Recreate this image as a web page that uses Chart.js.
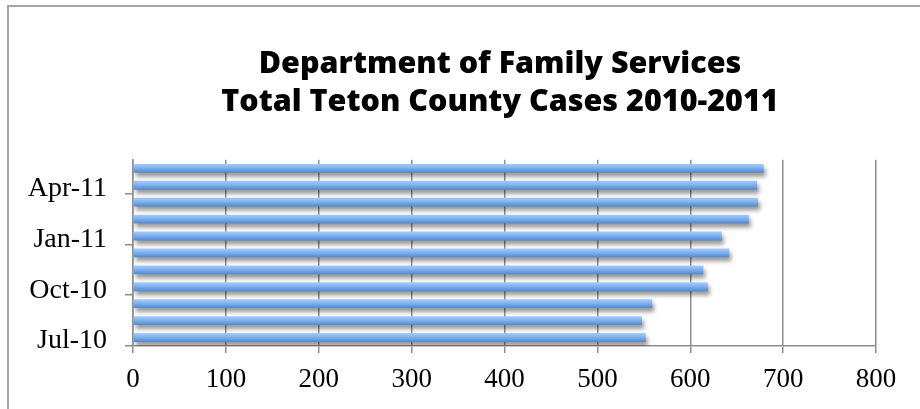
<!DOCTYPE html>
<html>
<head>
<meta charset="utf-8">
<script src="https://cdn.jsdelivr.net/npm/chart.js@4/dist/chart.umd.min.js"></script>
<style>
  html, body { margin: 0; padding: 0; background: #fff; overflow: hidden; }
  #wrap { position: relative; width: 920px; height: 409px; }
  #frame {
    position: absolute; left: 7px; top: 5px;
    width: 1000px; height: 500px;
    border: 2px solid #a4a4a4; pointer-events: none;
  }
  canvas { position: absolute; left: 0; top: 0; }
</style>
</head>
<body>
<div id="wrap">
  <canvas id="casesChart" width="920" height="409"></canvas>
  <div id="frame"></div>
</div>
<script>
// Monthly case totals, Jul 2010 - May 2011
const months = ['Jul-10', 'Aug-10', 'Sep-10', 'Oct-10', 'Nov-10', 'Dec-10',
                'Jan-11', 'Feb-11', 'Mar-11', 'Apr-11', 'May-11'];
const cases = [552, 548, 559, 619, 614, 642, 634, 663, 673, 672, 679];

// Category axis shows every third month, placed on the lower edge of its band
const monthTicks = [-0.5, 2.5, 5.5, 8.5];
const valueMax = 800;
const valueStep = 100;

const gridGrey = '#8e8e8e';
const serif = "'Liberation Serif', 'Times New Roman', serif";

// bar gradient, light at the top edge, deeper blue underneath
function barFill(ctx) {
    const chart = ctx.chart;
    const yScale = chart.scales.y;
    if (!yScale || ctx.type !== 'data') return '#7aade9';
    const c = yScale.getPixelForValue(ctx.dataIndex);
    if (!isFinite(c)) return '#7aade9';
    const g = chart.ctx.createLinearGradient(0, c - 4.5, 0, c + 4.5);
    g.addColorStop(0, '#a8cbf7');
    g.addColorStop(0.4, '#86b5ef');
    g.addColorStop(1, '#4c88d4');
    return g;
}

// soft drop shadow under the bars
const barShadow = {
    id: 'barShadow',
    beforeDatasetsDraw(chart) {
        const ctx = chart.ctx;
        ctx.save();
        ctx.shadowColor = 'rgba(0, 0, 0, 0.4)';
        ctx.shadowBlur = 4;
        ctx.shadowOffsetX = 2;
        ctx.shadowOffsetY = 4;
    },
    afterDatasetsDraw(chart) {
        chart.ctx.restore();
    }
};

// the frame runs past the right edge, so centre the title over the whole frame
const titleSpan = {
    id: 'titleSpan',
    afterLayout(chart) {
        if (chart.titleBlock) {
            chart.titleBlock.left = 8;
            chart.titleBlock.right = 992;
        }
    }
};

const ctx = document.getElementById('casesChart').getContext('2d');
const casesChart = new Chart(ctx, {
    type: 'bar',
    data: {
        datasets: [{
            label: 'Cases',
            data: months.map((m, i) => ({ x: cases[i], y: i })),
            backgroundColor: barFill,
            borderWidth: 0,
            barPercentage: 0.55,
            categoryPercentage: 0.95
        }]
    },
    plugins: [barShadow, titleSpan],
    options: {
        indexAxis: 'y',
        responsive: false,
        animation: false,
        layout: {
            padding: { left: 0, right: 44, top: 0, bottom: 0 }
        },
        plugins: {
            legend: { display: false },
            tooltip: { enabled: false },
            title: {
                display: true,
                text: ['Department of Family Services', 'Total Teton County Cases 2010-2011'],
                color: '#000',
                font: { family: "'Open Sans', sans-serif", size: 30.5, weight: 800, lineHeight: 1.26 },
                padding: { top: 45, bottom: 38 }
            }
        },
        scales: {
            x: {
                type: 'linear',
                min: 0,
                max: valueMax,
                afterFit(scale) { scale.height = 63; },
                ticks: {
                    stepSize: valueStep,
                    color: '#000',
                    font: { family: serif, size: 27 },
                    padding: 11,
                    maxRotation: 0
                },
                grid: {
                    color: gridGrey,
                    lineWidth: 1.5,
                    tickLength: 7
                },
                border: { color: gridGrey, width: 1.5 }
            },
            y: {
                type: 'linear',
                min: -0.5,
                max: 10.5,
                offset: false,
                afterFit(scale) { scale.width = 133; },
                afterBuildTicks(scale) {
                    scale.ticks = monthTicks.map(v => ({ value: v }));
                },
                ticks: {
                    color: '#000',
                    font: { family: serif, size: 28 },
                    padding: 18,
                    labelOffset: -5,
                    callback: v => months[Math.round(v + 0.5)]
                },
                grid: {
                    offset: false,
                    drawOnChartArea: false,
                    color: gridGrey,
                    lineWidth: 1.5,
                    tickLength: 8
                },
                border: { color: gridGrey, width: 1.5 }
            }
        }
    }
});
</script>
</body>
</html>
